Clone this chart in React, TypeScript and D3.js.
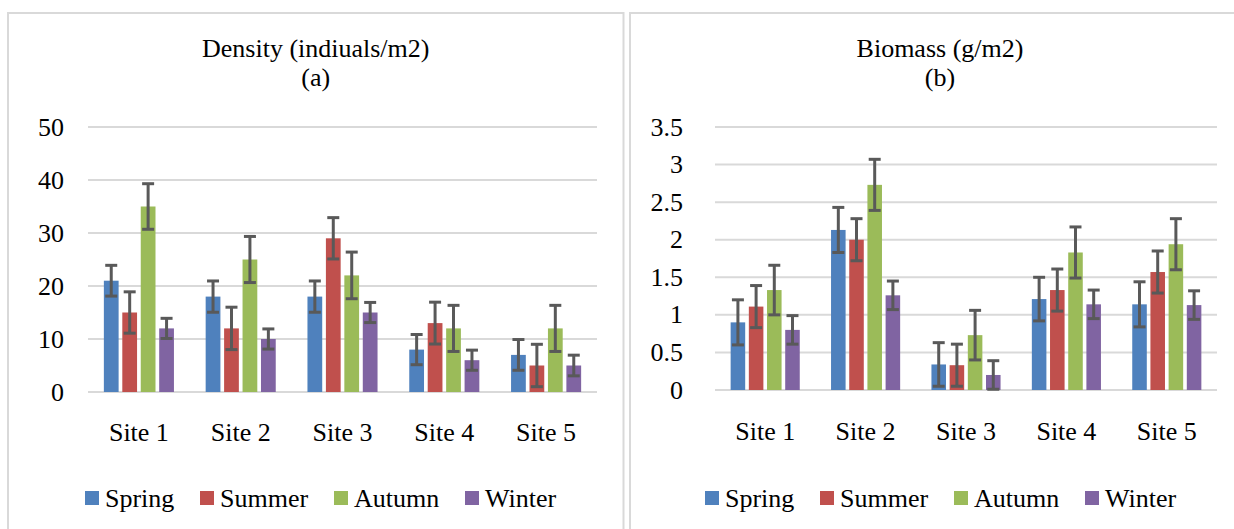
import React from 'react';
import * as d3 from 'd3';

const sites = ['Site 1', 'Site 2', 'Site 3', 'Site 4', 'Site 5'];
const seasons = ['Spring', 'Summer', 'Autumn', 'Winter'];
const seasonColors = ['#4f81bd', '#c0504d', '#9bbb59', '#8064a2'];

// (a) density, individuals/m2
const densitySpring = [21, 18, 18, 8, 7];
const densitySummer = [15, 12, 29, 13, 5];
const densityAutumn = [35, 25, 22, 12, 12];
const densityWinter = [12, 10, 15, 6, 5];
const densityErrSpring = [2.9, 2.95, 2.95, 2.85, 2.9];
const densityErrSummer = [3.9, 4.0, 3.9, 3.95, 4.0];
const densityErrAutumn = [4.3, 4.35, 4.4, 4.35, 4.35];
const densityErrWinter = [1.9, 1.9, 1.9, 1.9, 1.95];
const densityTicks = [0, 10, 20, 30, 40, 50];

// (b) biomass, g/m2
const biomassSpring = [0.9, 2.13, 0.34, 1.21, 1.14];
const biomassSummer = [1.11, 2.0, 0.33, 1.33, 1.57];
const biomassAutumn = [1.33, 2.73, 0.73, 1.83, 1.94];
const biomassWinter = [0.8, 1.26, 0.2, 1.14, 1.13];
const biomassErrSpring = [0.3, 0.3, 0.29, 0.29, 0.3];
const biomassErrSummer = [0.28, 0.28, 0.28, 0.28, 0.28];
const biomassErrAutumn = [0.33, 0.34, 0.33, 0.34, 0.34];
const biomassErrWinter = [0.19, 0.19, 0.19, 0.19, 0.19];
const biomassTicks = [0, 0.5, 1, 1.5, 2, 2.5, 3, 3.5];

const textStyle = { fontFamily: "'Liberation Serif'", fontSize: 26 };
// legend item offsets from the legend's left edge
const legendOffsets = [0, 115, 249, 380];

function Panel({ box, plot, values, errors, ticks, title, sub, yLabelX, labelY, legendX }) {
    const x0 = d3.scaleBand().domain(sites).range([plot.left, plot.right]);
    const x1 = d3.scaleBand().domain(seasons).range([0, x0.bandwidth()]).paddingInner(0.2).paddingOuter(0.86);
    const y = d3.scaleLinear().domain([0, ticks[ticks.length - 1]]).range([plot.bottom, plot.top]);
    const cx = (box[0] + box[2]) / 2;

    return (
        <g>
            <rect x={box[0]} y={box[1]} width={box[2] - box[0]} height={box[3] - box[1]}
                fill="#fff" stroke="#d9d9d9" strokeWidth={2} />
            <text x={cx} y={57} textAnchor="middle" style={textStyle}>{title}</text>
            <text x={cx} y={86} textAnchor="middle" style={textStyle}>{sub}</text>

            {ticks.map(t => (
                <g key={t}>
                    <line x1={plot.left} x2={plot.right} y1={y(t)} y2={y(t)} stroke="#d9d9d9" strokeWidth={2} />
                    <text x={yLabelX} y={y(t)} dy="0.33em" textAnchor="end" style={textStyle}>{String(t)}</text>
                </g>
            ))}

            {seasons.map((s, i) => (
                <g key={s}>
                    {values[i].map((v, j) => (
                        <rect key={j} x={x0(sites[j]) + x1(s)} y={y(v)} width={x1.bandwidth()}
                            height={y(0) - y(v)} fill={seasonColors[i]} />
                    ))}
                </g>
            ))}

            {seasons.map((s, i) => (
                <g key={s} stroke="#595959" strokeWidth={3}>
                    {values[i].map((v, j) => {
                        const mx = x0(sites[j]) + x1(s) + x1.bandwidth() / 2;
                        const hi = y(v + errors[i][j]);
                        const lo = y(Math.max(0, v - errors[i][j]));
                        return (
                            <g key={j}>
                                <line x1={mx} x2={mx} y1={hi} y2={lo} />
                                <line x1={mx - 6} x2={mx + 6} y1={hi} y2={hi} />
                                <line x1={mx - 6} x2={mx + 6} y1={lo} y2={lo} />
                            </g>
                        );
                    })}
                </g>
            ))}

            {sites.map(s => (
                <text key={s} x={x0(s) + x0.bandwidth() / 2} y={labelY} textAnchor="middle" style={textStyle}>{s}</text>
            ))}

            {seasons.map((s, i) => (
                <g key={s} transform={`translate(${legendX + legendOffsets[i]},0)`}>
                    <rect x={0} y={491} width={14} height={14} fill={seasonColors[i]} />
                    <text x={20} y={507} style={textStyle}>{s}</text>
                </g>
            ))}
        </g>
    );
}

export default function App() {
    return (
        <svg width={1234} height={529} style={{ position: 'absolute', left: 0, top: 0, background: '#fff' }}>
            <Panel
                box={[8, 13, 623.5, 545]}
                plot={{ left: 88, right: 597, top: 127, bottom: 392 }}
                values={[densitySpring, densitySummer, densityAutumn, densityWinter]}
                errors={[densityErrSpring, densityErrSummer, densityErrAutumn, densityErrWinter]}
                ticks={densityTicks}
                title="Density (indiuals/m2)"
                sub="(a)"
                yLabelX={64}
                labelY={441}
                legendX={85}
            />
            <Panel
                box={[630, 13, 1250, 545]}
                plot={{ left: 715, right: 1217, top: 127, bottom: 390 }}
                values={[biomassSpring, biomassSummer, biomassAutumn, biomassWinter]}
                errors={[biomassErrSpring, biomassErrSummer, biomassErrAutumn, biomassErrWinter]}
                ticks={biomassTicks}
                title="Biomass (g/m2)"
                sub="(b)"
                yLabelX={683}
                labelY={440}
                legendX={705}
            />
        </svg>
    );
}
